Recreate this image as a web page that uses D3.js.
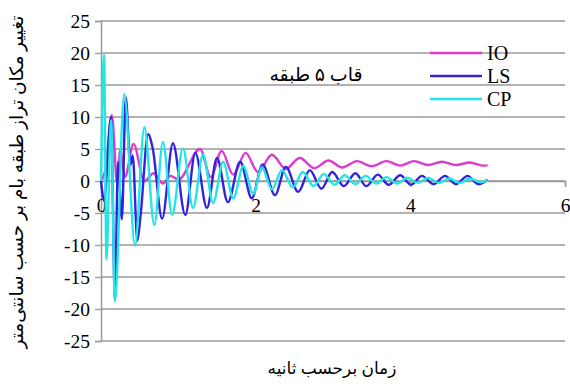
<!DOCTYPE html>
<html>
<head>
<meta charset="utf-8">
<script src="https://cdn.jsdelivr.net/npm/d3@7"></script>
<style>
  body { margin: 0; background: #fff; }
  text { font-family: "Liberation Serif", "DejaVu Sans", serif; }
</style>
</head>
<body>
<div id="chart"></div>
<script>
// time (s) and displacement (cm), one entry per turning point
const ioTime = [0, 0.06, 0.14, 0.21, 0.25, 0.31, 0.42, 0.56, 0.68, 0.8, 0.9, 1.0, 1.28, 1.42, 1.56, 1.71, 1.87, 2.03, 2.21, 2.39, 2.57, 2.76, 2.94, 3.12, 3.31, 3.5, 3.69, 3.87, 4.05, 4.23, 4.41, 4.59, 4.77, 4.95, 5.0];
const ioValue = [0, 2, 10.3, -0.5, 4.8, 0.6, 5.8, 0, 1.2, -0.4, 0.8, 0.2, 5.0, 0.6, 4.7, 1.0, 4.4, 1.4, 4.1, 1.9, 3.6, 2.0, 3.2, 2.1, 3.1, 2.3, 3.1, 2.4, 3.1, 2.5, 3.0, 2.5, 2.9, 2.4, 2.45];

const lsTime = [0, 0.04, 0.13, 0.18, 0.22, 0.27, 0.32, 0.38, 0.41, 0.47, 0.51, 0.61, 0.67, 0.79, 0.93, 1.09, 1.22, 1.37, 1.5, 1.64, 1.8, 1.95, 2.09, 2.25, 2.39, 2.55, 2.7, 2.85, 2.99, 3.14, 3.29, 3.43, 3.58, 3.72, 3.87, 4.01, 4.15, 4.3, 4.45, 4.59, 4.74, 4.88, 5.0];
const lsValue = [0, -3, 10, -18.5, 3, -6, 13.1, 2.5, 4, -9.3, -5.6, 7.3, 5, -5.9, 5.9, -5.3, 4.4, -4.2, 3.6, -3.3, 3.0, -2.7, 2.6, -2.2, 2.2, -1.7, 1.7, -1.2, 1.4, -0.8, 1.2, -0.8, 1.0, -0.6, 0.9, -0.6, 0.8, -0.5, 0.8, -0.5, 0.8, -0.5, 0.2];

const cpTime = [0, 0.04, 0.07, 0.13, 0.18, 0.3, 0.44, 0.56, 0.69, 0.8, 0.92, 1.06, 1.19, 1.32, 1.45, 1.58, 1.71, 1.84, 1.97, 2.08, 2.21, 2.34, 2.48, 2.61, 2.75, 2.88, 3.02, 3.15, 3.29, 3.42, 3.56, 3.69, 3.83, 3.96, 4.1, 4.23, 4.37, 4.5, 4.64, 4.77, 4.91, 5.0];
const cpValue = [0, 19.7, -12.2, 9.5, -18.8, 13.6, -10.1, 8.4, -6.9, 6.1, -5.3, 5.1, -4.2, 4.1, -3.4, 3.0, -2.7, 2.3, -2.0, 2.1, -1.3, 1.7, -1.0, 1.4, -0.8, 1.1, -0.6, 0.9, -0.5, 0.8, -0.4, 0.6, -0.4, 0.5, -0.3, 0.5, -0.3, 0.4, -0.3, 0.4, -0.2, 0.1];

const seriesNames = ['IO', 'LS', 'CP'];
const xTicks = [0, 2, 4, 6];
const yTicks = [-25, -20, -15, -10, -5, 0, 5, 10, 15, 20, 25];

const colors = { IO: '#dd3ad0', LS: '#3322dd', CP: '#22e6e6' };
const serif = '"Liberation Serif", "Times New Roman", serif';

const width = 570, height = 384;
const svg = d3.select('#chart').append('svg')
  .attr('width', width)
  .attr('height', height);

const x = d3.scaleLinear().domain([0, 6]).range([101, 565]);
const y = d3.scaleLinear().domain([-25, 25]).range([341, 21]);

// grid
svg.append('g')
  .selectAll('line')
  .data(yTicks)
  .enter()
  .append('line')
  .attr('x1', x(0)).attr('x2', x(6))
  .attr('y1', d => y(d)).attr('y2', d => y(d))
  .attr('stroke', '#999')
  .attr('stroke-width', 1.3);

// y axis
const yAxis = d3.axisLeft(y).tickValues(yTicks).tickSize(6).tickPadding(5).tickFormat(d => String(d));
const yG = svg.append('g')
  .attr('transform', `translate(${x(0)},0)`)
  .call(yAxis)
  .attr('font-family', serif)
  .attr('font-size', 19.5);
yG.select('.domain').attr('stroke', '#999').attr('stroke-width', 1.5);
yG.selectAll('.tick line').attr('stroke', '#999').attr('stroke-width', 1.3);
yG.selectAll('.tick text').attr('fill', '#000');

// x axis sits on zero
const xAxis = d3.axisBottom(x).tickValues(xTicks).tickSize(6).tickPadding(11).tickFormat(d => String(d));
const xG = svg.append('g')
  .attr('transform', `translate(0,${y(0)})`)
  .call(xAxis)
  .attr('font-family', serif)
  .attr('font-size', 19.5);
xG.select('.domain').attr('stroke', '#999').attr('stroke-width', 1.5);
xG.selectAll('.tick line').attr('stroke', '#999').attr('stroke-width', 1.3);
xG.selectAll('.tick text').attr('fill', '#000');

const series = [
  { name: 'IO', t: ioTime, v: ioValue },
  { name: 'LS', t: lsTime, v: lsValue },
  { name: 'CP', t: cpTime, v: cpValue }
];

const line = d3.line()
  .x(d => x(d[0]))
  .y(d => y(d[1]))
  .curve(d3.curveMonotoneX);

svg.append('g')
  .selectAll('path')
  .data(series)
  .enter()
  .append('path')
  .attr('d', s => line(s.t.map((t, i) => [t, s.v[i]])))
  .attr('fill', 'none')
  .attr('stroke', s => colors[s.name])
  .attr('stroke-width', 2.4)
  .attr('stroke-linejoin', 'round');

// legend
const legend = svg.append('g')
  .selectAll('g')
  .data(seriesNames)
  .enter()
  .append('g')
  .attr('transform', (d, i) => `translate(430,${53 + i * 23})`);
legend.append('line')
  .attr('x1', 0).attr('x2', 52)
  .attr('stroke', d => colors[d])
  .attr('stroke-width', 2.4);
legend.append('text')
  .attr('x', 57)
  .attr('y', 7)
  .style('font-family', serif)
  .style('font-size', '20px')
  .text(d => d);

// annotation and titles
svg.append('text')
  .attr('x', 316).attr('y', 81)
  .attr('text-anchor', 'middle')
  .style('font-size', '19px')
  .text('قاب ۵ طبقه');

svg.append('text')
  .attr('x', 332).attr('y', 374)
  .attr('text-anchor', 'middle')
  .style('font-size', '17px')
  .text('زمان برحسب ثانیه');

svg.append('text')
  .attr('transform', 'translate(23,182) rotate(-90)')
  .attr('text-anchor', 'middle')
  .style('font-size', '18.5px')
  .text('تغییر مکان تراز طبقه بام بر حسب سانتی‌متر');
</script>
</body>
</html>
